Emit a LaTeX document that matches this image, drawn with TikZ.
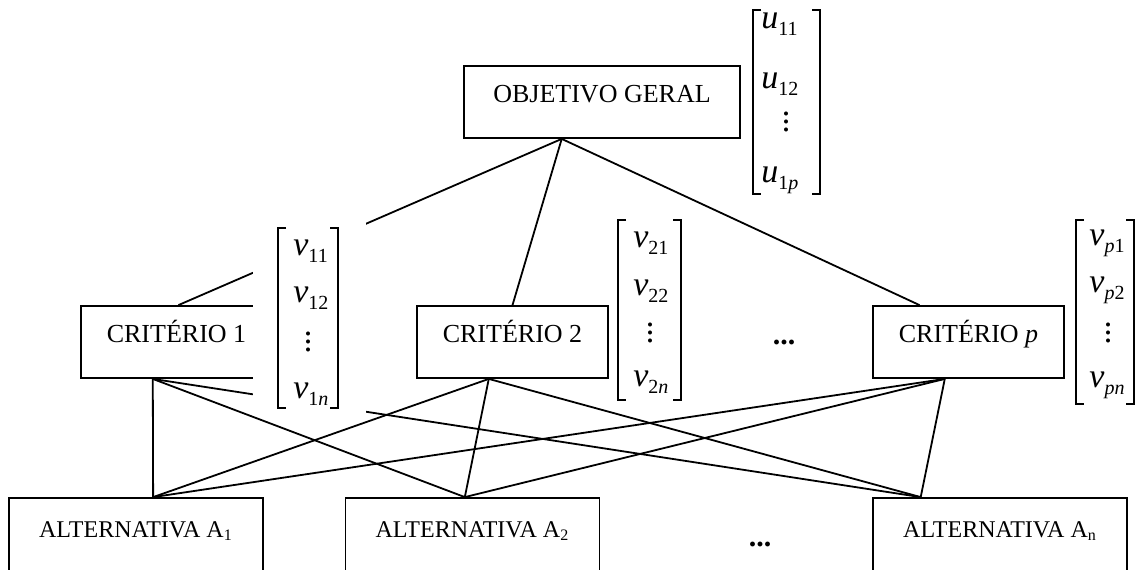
\documentclass[tikz,border=0pt]{standalone}
\usepackage{fontspec}
\setmainfont{Liberation Serif}
\usetikzlibrary{calc}
\newcommand{\vx}[2]{\textit{#1}\raisebox{-3.5pt}{\fontsize{10}{10}\selectfont #2}}
\newcommand{\vd}{\vbox{\baselineskip=4pt\lineskiplimit=0pt\hbox{.}\hbox{.}\hbox{.}}}
\tikzset{
  box/.style={draw,rectangle,line width=0.9pt,inner sep=0pt,text height=18pt,text depth=18pt,minimum width=95.5pt,font=\fontsize{13}{15}\selectfont},
  objbox/.style={box,minimum width=138pt},
  altbox/.style={draw,rectangle,line width=0.9pt,inner sep=0pt,text height=19.5pt,text depth=19.5pt,minimum width=127pt,font=\fontsize{12}{14}\selectfont},
  link/.style={line width=0.9pt},
  brk/.style={line width=0.9pt},
  ent/.style={anchor=base west,inner sep=0pt,font=\fontsize{17}{17}\selectfont},
  vdt/.style={anchor=south,inner sep=0pt,font=\fontsize{17}{17}\selectfont},
  more/.style={inner sep=0pt,font=\fontsize{15}{15}\selectfont\bfseries},
}
\begin{document}
\begin{tikzpicture}[x=0.5pt,y=-0.5pt]
  \useasboundingbox (0,0) rectangle (1135,569);
  \node[objbox] (obj) at (602,102) {OBJETIVO GERAL};
  \node[box] (c1) at (176.5,342) {CRITÉRIO 1};
  \node[box] (c2) at (512.5,342) {CRITÉRIO 2};
  \node[box] (cp) at (968.5,342) {CRITÉRIO \textit{p}};
  \node[altbox] (a1) at (136,537) {ALTERNATIVA A\textsubscript{1}};
  \node[altbox] (a2) at (472.5,537) {ALTERNATIVA A\textsubscript{2}};
  \node[altbox] (an) at (1000,537) {ALTERNATIVA A\textsubscript{n}};
  \node[more] (m1) at (784,342) {...};
  \node[more] (m2) at (760,544) {...};
  \coordinate (obj-s) at ($(obj.south west)!0.355!(obj.south east)$);
  \coordinate (c1-n) at ($(c1.north west)!0.51!(c1.north east)$);
  \coordinate (c2-n) at ($(c2.north west)!0.5!(c2.north east)$);
  \coordinate (cp-n) at ($(cp.north west)!0.246!(cp.north east)$);
  \coordinate (c1-s) at ($(c1.south west)!0.377!(c1.south east)$);
  \coordinate (c2-s) at ($(c2.south west)!0.377!(c2.south east)$);
  \coordinate (cp-s) at ($(cp.south west)!0.377!(cp.south east)$);
  \coordinate (a1-n) at ($(a1.north west)!0.567!(a1.north east)$);
  \coordinate (a2-n) at ($(a2.north west)!0.47!(a2.north east)$);
  \coordinate (an-n) at ($(an.north west)!0.19!(an.north east)$);
  \draw[link] (obj-s) -- (c1-n);
  \draw[link] (obj-s) -- (c2-n);
  \draw[link] (obj-s) -- (cp-n);
  \draw[link] (c1-s) -- (a1-n);
  \draw[link] (c1-s) -- (a2-n);
  \draw[link] (c1-s) -- (an-n);
  \draw[link] (c2-s) -- (a1-n);
  \draw[link] (c2-s) -- (a2-n);
  \draw[link] (c2-s) -- (an-n);
  \draw[link] (cp-s) -- (a1-n);
  \draw[link] (cp-s) -- (a2-n);
  \draw[link] (cp-s) -- (an-n);
  \fill[white] (253,222) rectangle (366,413);
  \draw[brk] (761,10) -- (753,10) -- (753,194) -- (761,194);
  \draw[brk] (812,10) -- (820,10) -- (820,194) -- (812,194);
  \node[ent] (u11) at (761,28) {\vx{u}{11}};
  \node[ent] (u12) at (761,88) {\vx{u}{12}};
  \node[vdt] (u1d) at (786,132) {\vd};
  \node[ent] (u1p) at (761,182) {\vx{u}{1\textit{p}}};
  \draw[brk] (286,228) -- (278,228) -- (278,408) -- (286,408);
  \draw[brk] (330,228) -- (338,228) -- (338,408) -- (330,408);
  \node[ent] (v11) at (293,255) {\vx{v}{11}};
  \node[ent] (v12) at (293,302) {\vx{v}{12}};
  \node[vdt] (v1d) at (308,352) {\vd};
  \node[ent] (v1n) at (293,398) {\vx{v}{1\textit{n}}};
  \draw[brk] (626,220) -- (618,220) -- (618,400) -- (626,400);
  \draw[brk] (673,220) -- (681,220) -- (681,400) -- (673,400);
  \node[ent] (v21) at (633,247) {\vx{v}{21}};
  \node[ent] (v22) at (633,295) {\vx{v}{22}};
  \node[vdt] (v2d) at (650,343) {\vd};
  \node[ent] (v2n) at (633,386) {\vx{v}{2\textit{n}}};
  \draw[brk] (1084,220) -- (1076,220) -- (1076,404) -- (1084,404);
  \draw[brk] (1126,220) -- (1134,220) -- (1134,404) -- (1126,404);
  \node[ent] (vp1) at (1089,245) {\vx{v}{\textit{p}1}};
  \node[ent] (vp2) at (1089,292) {\vx{v}{\textit{p}2}};
  \node[vdt] (vpd) at (1108,343) {\vd};
  \node[ent] (vpn) at (1089,387) {\vx{v}{\textit{pn}}};
\end{tikzpicture}
\end{document}
